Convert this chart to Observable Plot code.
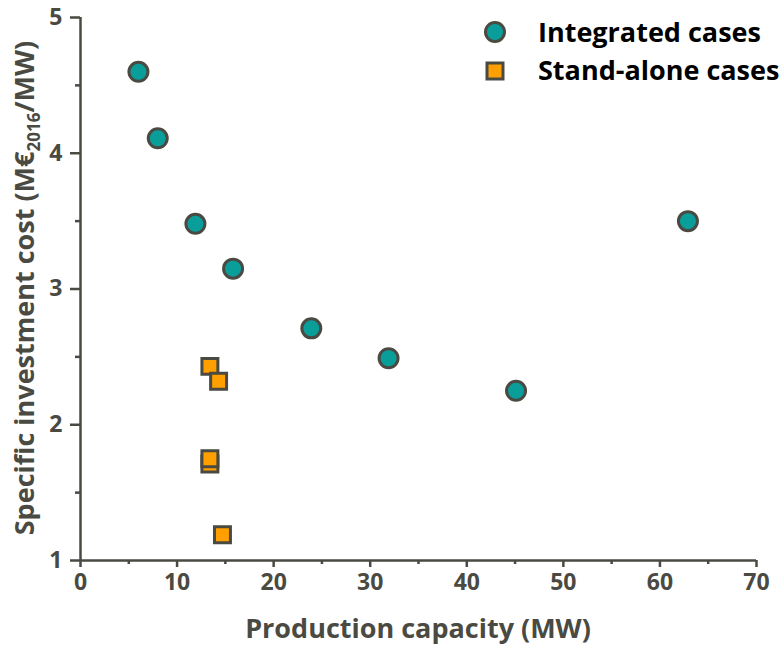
<!DOCTYPE html>
<html><head><meta charset="utf-8">
<script src="https://cdn.jsdelivr.net/npm/d3@7"></script>
<script src="https://cdn.jsdelivr.net/npm/@observablehq/plot@0.6"></script>
<style>
body{margin:0;background:#fff;}
#wrap{position:relative;width:784px;height:648px;}
</style></head><body><div id="wrap"></div>
<script>
const integratedX = [6.0, 8.0, 11.9, 15.8, 23.9, 31.9, 45.1, 62.9];
const integratedY = [4.60, 4.11, 3.48, 3.15, 2.71, 2.49, 2.25, 3.50];
const standaloneX = [13.4, 14.3, 13.4, 13.4, 14.7];
const standaloneY = [2.43, 2.32, 1.71, 1.75, 1.19];
const seriesNames = ["Integrated cases", "Stand-alone cases"];
const xTicks = [0, 10, 20, 30, 40, 50, 60, 70];
const xMinor = [5, 15, 25, 35, 45, 55, 65];
const yTicks = [1, 2, 3, 4, 5];
const yMinor = [1.5, 2.5, 3.5, 4.5];

const integrated = integratedX.map((x, i) => ({x, y: integratedY[i]}));
const standalone = standaloneX.map((x, i) => ({x, y: standaloneY[i]}));

const ink = "#4a4a42";
const teal = "#0a9e9b";
const orange = "#ff9f00";

const chart = Plot.plot({
  width: 784, height: 648,
  marginLeft: 80, marginRight: 28, marginTop: 17, marginBottom: 88,
  style: {fontFamily: "'Open Sans', sans-serif", fontSize: "23px", fontWeight: 700, color: ink, background: "#fff"},
  x: {domain: [0, 70]},
  y: {domain: [1, 5]},
  marks: [
    Plot.axisX({ticks: xTicks, tickSize: 7, tickPadding: 6, strokeWidth: 2.5, label: null, tickFormat: d => d}),
    Plot.axisX({ticks: xMinor, tickSize: 4, text: null, strokeWidth: 2.5, label: null}),
    Plot.axisY({ticks: yTicks, tickSize: 10, tickPadding: 8, strokeWidth: 2.5, label: null, tickFormat: d => d}),
    Plot.axisY({ticks: yMinor, tickSize: 5, text: null, strokeWidth: 2.5, label: null}),
    Plot.ruleY([1], {stroke: ink, strokeWidth: 2.5}),
    Plot.ruleX([0], {stroke: ink, strokeWidth: 2.5}),
    Plot.dot(integrated, {x: "x", y: "y", r: 9.5, fill: teal, stroke: ink, strokeWidth: 3, symbol: "circle"}),
    Plot.dot(standalone, {x: "x", y: "y", r: 9, fill: orange, stroke: ink, strokeWidth: 3, symbol: "square"})
  ]
});
document.getElementById("wrap").appendChild(chart);

const svg = d3.select(chart);
// x title
svg.append("text").attr("x", 418).attr("y", 638).attr("text-anchor", "middle")
  .attr("font-family", "'Open Sans', sans-serif").attr("font-weight", 700).attr("font-size", 27)
  .attr("fill", ink).text("Production capacity (MW)");
// y title with subscript
const yt = svg.append("text").attr("transform", "translate(34,288) rotate(-90)").attr("text-anchor", "middle")
  .attr("font-family", "'Open Sans', sans-serif").attr("font-weight", 700).attr("font-size", 27).attr("fill", ink);
yt.append("tspan").text("Specific investment cost (M€");
yt.append("tspan").attr("font-size", 17).attr("dy", 6).text("2016");
yt.append("tspan").attr("dy", -6).text("/MW)");

// legend
const lg = svg.append("g").attr("font-family", "'Open Sans', sans-serif").attr("font-weight", 700).attr("font-size", 27).attr("fill", "#000").attr("text-anchor", "start");
lg.append("circle").attr("cx", 495).attr("cy", 32).attr("r", 9.5).attr("fill", teal).attr("stroke", ink).attr("stroke-width", 3);
lg.append("rect").attr("x", 487).attr("y", 63).attr("width", 16).attr("height", 16).attr("fill", orange).attr("stroke", ink).attr("stroke-width", 3);
lg.append("text").attr("x", 538).attr("y", 33).attr("dy", "0.35em").text(seriesNames[0]);
lg.append("text").attr("x", 538).attr("y", 71).attr("dy", "0.35em").text(seriesNames[1]);
</script></body></html>
